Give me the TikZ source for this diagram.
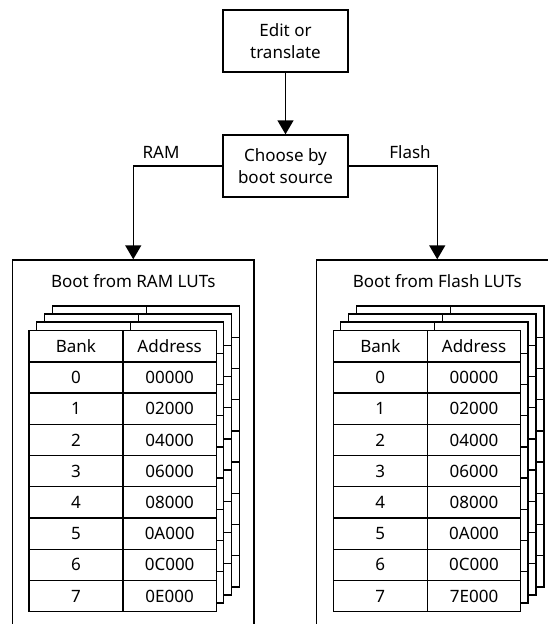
\documentclass[tikz,border=0pt]{standalone}
\usepackage{fontspec}
\setmainfont{Noto Sans}
\usetikzlibrary{arrows.meta}
\newcommand\lutstack[3]{%
  \foreach \k in {3,2,1}{%
    \pgfmathsetmacro\ox{#1+28.3+8*\k}%
    \pgfmathsetmacro\oy{330-8*\k}%
    \draw[tbl, fill=white] (\ox,\oy) rectangle ++(187.4,281);
    \draw[tbl] (\ox+94,\oy) -- ++(0,281);
    \foreach \r in {1,...,8} \draw[tbl] (\ox,\oy+31.22*\r) -- ++(187.4,0);
  }
  \foreach \b/\a [count=\i from 0] in {Bank/Address,0/00000,1/02000,2/04000,3/06000,4/08000,5/0A000,6/0C000,7/#3}{%
    \node[cell, minimum width=94pt] (#2-b\i) at (#1+28.3, 330+31.22*\i) {\b};
    \node[cell, minimum width=93.4pt] (#2-a\i) at (#1+122.3, 330+31.22*\i) {\a};
  }
}
\begin{document}
\begin{tikzpicture}[x=1pt,y=-1pt,
  txt/.style={font=\fontsize{17}{22}\selectfont},
  box/.style={draw, line width=1.4pt, minimum width=125pt, minimum height=62pt,
    align=center, inner sep=0pt, txt},
  panel/.style={draw, line width=1.4pt, minimum width=241.5pt, minimum height=380pt, inner sep=0pt},
  arr/.style={line width=1.4pt, -{Triangle[width=16pt,length=14pt]}},
  tbl/.style={line width=1.3pt},
  cell/.style={draw, line width=1.3pt, minimum height=31.22pt, inner sep=0pt,
    anchor=north west, fill=white, txt}]
\useasboundingbox (0,0) rectangle (548,624);
\clip (0,0) rectangle (548,624);
\node[box] (edit) at (285.5,41) {Edit or\\translate};
\node[box] (choose) at (285.5,166) {Choose by\\boot source};
\node[panel] (ram) at (133.25,450) {};
\node[panel] (flash) at (437.25,450) {};
\node[txt] (ramlbl) at (161,152) {RAM};
\node[txt] (flashlbl) at (410,152) {Flash};
\node[txt] (ramtitle) at (133.25,281) {Boot from RAM LUTs};
\node[txt] (flashtitle) at (437.25,281) {Boot from Flash LUTs};
\draw[arr] (edit) -- (choose);
\draw[arr] (choose.west) -| (ram.north);
\draw[arr] (choose.east) -| (flash.north);
\lutstack{0}{r}{0E000}
\lutstack{304.4}{f}{7E000}
\end{tikzpicture}
\end{document}
